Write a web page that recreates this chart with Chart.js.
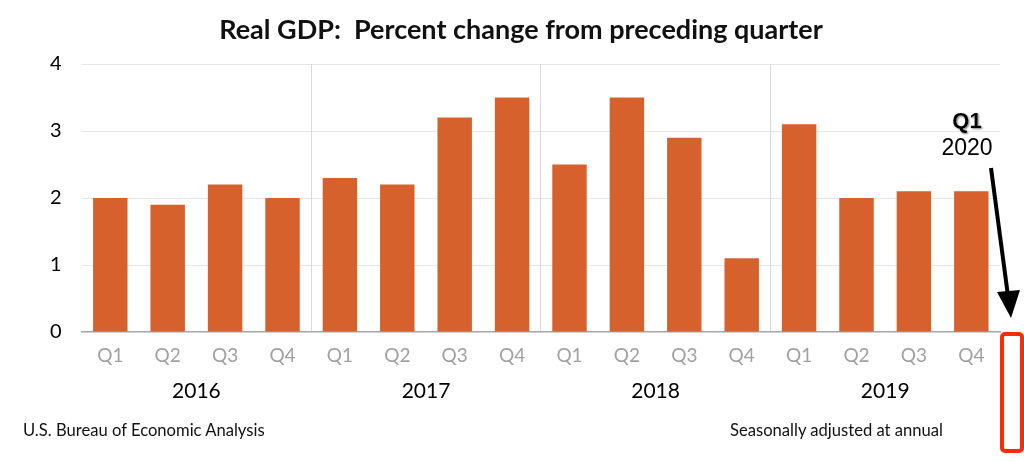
<!DOCTYPE html>
<html lang="en">
<head>
    <meta charset="UTF-8">
    <title>Real GDP</title>
    <script src="https://cdn.jsdelivr.net/npm/chart.js"></script>
    <style>
        body { margin: 0; background: #fff; }
        #wrap { position: relative; width: 1024px; height: 461px; font-family: Lato, "Noto Sans", sans-serif; }
        #title { position: absolute; left: 0; width: 1042px; top: 12px; text-align: center; font-weight: bold; font-size: 27px; color: #111; }
        .note { position: absolute; top: 420px; font-size: 16.6px; color: #111; }
        #q1 { position: absolute; left: 920px; width: 94px; text-align: center; font-family: "Liberation Sans", Arial, sans-serif; color: #000; }
        #q1 b { display: block; font-size: 22px; line-height: 26px; text-shadow: 0 0 1px #fff, 1px 1px 2px #777; }
        #q1 span { display: block; font-size: 23px; line-height: 26px; }
    </style>
</head>
<body>
<div id="wrap">
    <canvas id="gdp"></canvas>
    <div id="title">Real GDP:&nbsp; Percent change from preceding quarter</div>
    <div class="note" style="left: 23px;">U.S. Bureau of Economic Analysis</div>
    <div class="note" style="left: 730px;">Seasonally adjusted at annual</div>
    <div id="q1" style="top: 108px;"><b>Q1</b><span>2020</span></div>
</div>

<script>
    // data
    const quarters = ['Q1', 'Q2', 'Q3', 'Q4', 'Q1', 'Q2', 'Q3', 'Q4', 'Q1', 'Q2', 'Q3', 'Q4', 'Q1', 'Q2', 'Q3', 'Q4'];
    const years = ['2016', '2017', '2018', '2019'];
    const gdpChange = [2.0, 1.9, 2.2, 2.0, 2.3, 2.2, 3.2, 3.5, 2.5, 3.5, 2.9, 1.1, 3.1, 2.0, 2.1, 2.1];
    const yTicks = [0, 1, 2, 3, 4];

    // red box for Q1 2020 + arrow pointing at it
    const q1Marker = {
        id: 'q1Marker',
        afterDraw(chart) {
            const ctx = chart.ctx;
            const area = chart.chartArea;
            ctx.save();
            // arrow
            ctx.strokeStyle = '#000';
            ctx.fillStyle = '#000';
            ctx.lineWidth = 4;
            ctx.beginPath();
            ctx.moveTo(area.right - 9, 168);
            ctx.lineTo(area.right + 8, 296);
            ctx.stroke();
            ctx.beginPath();
            ctx.moveTo(area.right - 3, 292);
            ctx.lineTo(area.right + 20, 290);
            ctx.lineTo(area.right + 11, 318);
            ctx.closePath();
            ctx.fill();
            // box
            ctx.strokeStyle = '#ff2a0a';
            ctx.lineWidth = 4;
            ctx.beginPath();
            ctx.roundRect(area.right + 2, area.bottom + 2, 20, 117, 3);
            ctx.stroke();
            ctx.restore();
        }
    };

    new Chart(document.getElementById('gdp'), {
        type: 'bar',
        data: {
            labels: quarters,
            datasets: [{
                label: 'Real GDP',
                data: gdpChange,
                backgroundColor: '#d6612d',
                borderWidth: 0,
                categoryPercentage: 1,
                barPercentage: 0.6
            }]
        },
        options: {
            responsive: true,
            maintainAspectRatio: false,
            animation: false,
            layout: { padding: { top: 64, right: 24, left: 30, bottom: 57 } },
            plugins: {
                legend: { display: false },
                tooltip: { enabled: false }
            },
            scales: {
                y: {
                    min: 0,
                    max: 4,
                    afterBuildTicks: axis => { axis.ticks = yTicks.map(v => ({ value: v })); },
                    border: { display: false },
                    grid: {
                        color: c => c.tick && c.tick.value === 0 ? 'transparent' : '#e6e6e6',
                        drawTicks: false
                    },
                    ticks: { color: '#000', padding: 20, font: { family: 'Lato', size: 20 } }
                },
                x: {
                    grid: { display: false, drawTicks: false },
                    border: { color: '#a6a6a6', width: 1.5 },
                    ticks: { color: '#a0a0a0', padding: 12, maxRotation: 0, font: { family: 'Lato', size: 19 } }
                },
                x2: {
                    type: 'category',
                    position: 'bottom',
                    labels: years,
                    offset: true,
                    border: { display: false },
                    grid: {
                        offset: true,
                        drawTicks: false,
                        color: c => (c.index > 0 && c.index < years.length) ? '#d9d9d9' : 'transparent'
                    },
                    ticks: { color: '#000', padding: 0, maxRotation: 0, font: { family: 'Lato', size: 21 } }
                }
            }
        },
        plugins: [q1Marker]
    });
</script>
</body>
</html>
